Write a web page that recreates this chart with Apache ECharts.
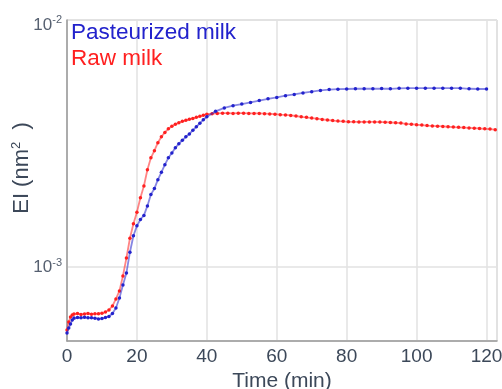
<!DOCTYPE html>
<html>
<head>
<meta charset="utf-8">
<script src="https://cdn.jsdelivr.net/npm/echarts@6/dist/echarts.min.js"></script>
<style>
  html, body { margin: 0; padding: 0; background: #fff; }
  #chart { width: 502px; height: 389px; }
</style>
</head>
<body>
<div id="chart"></div>
<script>
// Pasteurized milk: time (min) and EI (nm^2)
const pastTime = [0, 0.5, 1, 1.5, 2, 3, 4, 5, 6, 7, 8, 9, 10, 11, 12, 13, 14, 15, 16, 17, 18, 19, 20,
  21, 22, 23, 24, 25, 26, 27, 28, 29, 30, 31, 32, 33, 34, 35, 36, 37, 38, 39, 40,
  42.5, 45, 47.5, 50, 52.5, 55, 57.5, 60, 62.5, 65, 67.5, 70, 72.5, 75, 77.5, 80,
  82.5, 85, 87.5, 90, 92.5, 95, 97.5, 100, 102.5, 105, 107.5, 110, 112.5, 115, 117.5, 120];
const pastEI = [5.42e-4, 5.68e-4, 5.89e-4, 6.12e-4, 6.23e-4, 6.26e-4, 6.24e-4, 6.27e-4, 6.25e-4, 6.24e-4,
  6.22e-4, 6.18e-4, 6.20e-4, 6.26e-4, 6.32e-4, 6.50e-4, 6.84e-4, 7.51e-4, 8.48e-4, 9.48e-4, 1.15e-3,
  1.34e-3, 1.47e-3, 1.56e-3, 1.62e-3, 1.77e-3, 1.97e-3, 2.08e-3, 2.26e-3, 2.42e-3, 2.60e-3, 2.77e-3,
  2.90e-3, 3.04e-3, 3.16e-3, 3.26e-3, 3.37e-3, 3.46e-3, 3.58e-3, 3.70e-3, 3.82e-3, 3.95e-3, 4.06e-3,
  4.27e-3, 4.41e-3, 4.50e-3, 4.57e-3, 4.64e-3, 4.72e-3, 4.80e-3, 4.86e-3, 4.94e-3, 5.00e-3, 5.07e-3,
  5.13e-3, 5.19e-3, 5.23e-3, 5.25e-3, 5.26e-3, 5.27e-3, 5.27e-3, 5.27e-3, 5.28e-3, 5.27e-3, 5.29e-3,
  5.30e-3, 5.30e-3, 5.30e-3, 5.30e-3, 5.30e-3, 5.30e-3, 5.30e-3, 5.27e-3, 5.26e-3, 5.26e-3];

// Raw milk: time (min) and EI (nm^2)
const rawTime = [0, 0.5, 1, 1.5, 2, 3, 4, 5, 6, 7, 8, 9, 10, 11, 12, 13, 14, 15, 16, 17, 18, 19, 20,
  21, 22, 23, 24, 25, 26, 27, 28, 29, 30, 31, 32, 33, 34, 35, 36, 37, 38, 39, 40,
  41.5, 43, 44.5, 46, 47.5, 49, 50.5, 52, 53.5, 55, 56.5, 58, 59.5, 61, 62.5, 64, 65.5, 67, 68.5,
  70, 71.5, 73, 74.5, 76, 77.5, 79, 80.5, 82, 83.5, 85, 86.5, 88, 89.5, 91, 92.5, 94, 95.5, 97,
  98.5, 100, 101.5, 103, 104.5, 106, 107.5, 109, 110.5, 112, 113.5, 115, 116.5, 118, 119.5, 121, 122.5];
const rawEI = [5.57e-4, 6.00e-4, 6.29e-4, 6.41e-4, 6.47e-4, 6.50e-4, 6.44e-4, 6.47e-4, 6.50e-4, 6.46e-4,
  6.48e-4, 6.49e-4, 6.52e-4, 6.59e-4, 6.72e-4, 6.97e-4, 7.44e-4, 8.02e-4, 9.22e-4, 1.09e-3, 1.31e-3,
  1.50e-3, 1.67e-3, 1.91e-3, 2.13e-3, 2.48e-3, 2.77e-3, 2.96e-3, 3.19e-3, 3.37e-3, 3.51e-3, 3.63e-3,
  3.72e-3, 3.79e-3, 3.84e-3, 3.89e-3, 3.93e-3, 3.97e-3, 4.00e-3, 4.04e-3, 4.08e-3, 4.12e-3, 4.16e-3,
  4.18e-3, 4.19e-3, 4.20e-3, 4.20e-3, 4.19e-3, 4.20e-3, 4.20e-3, 4.19e-3, 4.19e-3, 4.19e-3, 4.18e-3,
  4.17e-3, 4.16e-3, 4.14e-3, 4.13e-3, 4.11e-3, 4.09e-3, 4.06e-3, 4.04e-3, 4.01e-3, 3.99e-3, 3.96e-3,
  3.94e-3, 3.92e-3, 3.90e-3, 3.89e-3, 3.875e-3, 3.875e-3, 3.87e-3, 3.87e-3, 3.87e-3, 3.87e-3, 3.865e-3,
  3.86e-3, 3.85e-3, 3.84e-3, 3.83e-3, 3.80e-3, 3.79e-3, 3.77e-3, 3.76e-3, 3.74e-3, 3.73e-3, 3.72e-3,
  3.71e-3, 3.70e-3, 3.69e-3, 3.68e-3, 3.67e-3, 3.66e-3, 3.65e-3, 3.64e-3, 3.63e-3, 3.62e-3, 3.60e-3];

const seriesNames = ['Pasteurized milk', 'Raw milk'];
const xTickStep = 20;

const BLUE = '#2222cc';
const RED = '#ff2020';
const TEXT = '#3c4859';
const TICK = '#566070';
const FONT = '"Liberation Sans", Arial, sans-serif';

const pair = (xs, ys) => xs.map((x, i) => [x, ys[i]]);

const chart = echarts.init(document.getElementById('chart'), null, { renderer: 'canvas' });

chart.setOption({
  animation: false,
  backgroundColor: '#ffffff',
  grid: {
    left: 67, right: 5, top: 20, bottom: 48,
    containLabel: false,
    outerBoundsMode: 'none',
    show: true, borderColor: '#c4c4c4', borderWidth: 1, backgroundColor: 'transparent'
  },
  legend: {
    orient: 'vertical',
    left: 66, top: 21,
    itemWidth: 0, itemHeight: 0, itemGap: 3,
    padding: 0,
    selectedMode: false,
    data: [
      { name: seriesNames[0], icon: 'rect', textStyle: { color: BLUE } },
      { name: seriesNames[1], icon: 'rect', textStyle: { color: RED } }
    ],
    textStyle: { fontSize: 22.5, fontFamily: FONT, padding: [0, 0, 0, 0], lineHeight: 23 }
  },
  xAxis: {
    type: 'value',
    min: 0, max: 123, interval: xTickStep,
    name: 'Time (min)',
    nameLocation: 'middle',
    nameGap: 25,
    nameTextStyle: { fontSize: 21, color: TEXT, fontFamily: FONT },
    axisLine: { show: true, lineStyle: { color: '#9a9a9a', width: 1.5 } },
    axisTick: { show: false },
    axisLabel: {
      fontSize: 19, color: TEXT, fontFamily: FONT, margin: 6,
      formatter: v => (v % xTickStep === 0 ? String(v) : '')
    },
    splitLine: { show: true, lineStyle: { color: '#e2e2e2', width: 1.5 } }
  },
  yAxis: {
    type: 'log',
    logBase: 10,
    min: 5.03e-4, max: 1e-2,
    axisLine: { show: true, lineStyle: { color: '#9a9a9a', width: 1.5 } },
    axisTick: { show: false },
    axisLabel: {
      margin: 5,
      formatter: v => {
        const e = Math.log10(v);
        const r = Math.round(e);
        if (Math.abs(e - r) > 1e-6) return '';
        // the label at the top edge sits a little lower, inside the frame
        return r === -2 ? '{bt|10}{st|' + r + '}' : '{b|10}{s|' + r + '}';
      },
      rich: {
        b: { fontSize: 17, color: TICK, fontFamily: FONT, lineHeight: 20 },
        s: { fontSize: 11, color: TICK, fontFamily: FONT, lineHeight: 11, verticalAlign: 'top' },
        bt: { fontSize: 17, color: TICK, fontFamily: FONT, lineHeight: 20, padding: [10, 0, 0, 0] },
        st: { fontSize: 11, color: TICK, fontFamily: FONT, lineHeight: 11, verticalAlign: 'top', padding: [4, 0, 0, 0] }
      }
    },
    splitLine: { show: true, lineStyle: { color: '#e2e2e2', width: 1.5 } }
  },
  graphic: [{
    type: 'text',
    x: 22, y: 168,
    rotation: Math.PI / 2,
    style: {
      text: '{a|EI (nm}{s|2}{a|  )}',
      align: 'center',
      verticalAlign: 'middle',
      rich: {
        a: { fontSize: 22, fill: TEXT, fontFamily: FONT, lineHeight: 24 },
        s: { fontSize: 13, fill: TEXT, fontFamily: FONT, lineHeight: 13, verticalAlign: 'top' }
      }
    }
  }],
  series: [
    {
      name: seriesNames[1],
      type: 'line',
      data: pair(rawTime, rawEI),
      color: RED,
      symbol: 'circle',
      symbolSize: 3.5,
      showSymbol: true,
      lineStyle: { color: RED, width: 1.8, opacity: 0.55 },
      itemStyle: { color: RED },
      z: 2
    },
    {
      name: seriesNames[0],
      type: 'line',
      data: pair(pastTime, pastEI),
      color: BLUE,
      symbol: 'circle',
      symbolSize: 3.5,
      showSymbol: true,
      lineStyle: { color: BLUE, width: 1.8, opacity: 0.55 },
      itemStyle: { color: BLUE },
      z: 3
    }
  ]
});
</script>
</body>
</html>
